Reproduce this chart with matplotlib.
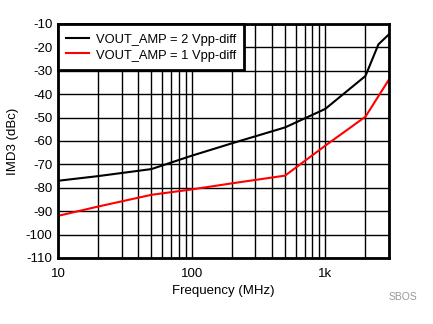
import matplotlib
matplotlib.use("Agg")
import matplotlib.pyplot as plt
from matplotlib.ticker import FixedLocator, LogLocator, NullFormatter

plt.rcParams['font.family'] = ['Liberation Sans', 'DejaVu Sans']
plt.rcParams['axes.unicode_minus'] = False

# data
freq_2v = [10, 20, 50, 100, 200, 500, 1000, 2000, 2500, 3000]
imd3_2v = [-77, -75, -72, -66.3, -61, -54.2, -46.3, -32.2, -18.7, -14.4]
freq_1v = [10, 20, 50, 100, 200, 500, 1000, 2000, 3000]
imd3_1v = [-92, -88, -83, -80.7, -78.1, -74.8, -62, -49.6, -33.7]

labels = ['VOUT_AMP = 2 Vpp-diff', 'VOUT_AMP = 1 Vpp-diff']
x_ticks = [10, 100, 1000]
x_ticklabels = ['10', '100', '1k']
y_ticks = list(range(-110, 0, 10))

fs = 9.5
fig = plt.figure(figsize=(4.33, 3.24), dpi=100)
ax = fig.add_axes([58/433, 1 - 258/324, (389-58)/433, (258-24)/324])

ax.plot(freq_2v, imd3_2v, color='black', lw=1.5, label=labels[0], zorder=3)
ax.plot(freq_1v, imd3_1v, color='#ff0000', lw=1.5, label=labels[1], zorder=3)

ax.set_xscale('log')
ax.set_xlim(10, 3000)
ax.set_ylim(-110, -10)
ax.xaxis.set_major_locator(FixedLocator(x_ticks))
ax.set_xticklabels(x_ticklabels)
ax.xaxis.set_minor_locator(LogLocator(base=10, subs=range(2, 10)))
ax.xaxis.set_minor_formatter(NullFormatter())
ax.set_yticks(y_ticks)

ax.grid(True, which='both', axis='x', color='black', lw=1)
ax.grid(True, which='major', axis='y', color='black', lw=1)
ax.tick_params(which='both', length=0, labelsize=fs, colors='black')
ax.tick_params(axis='x', pad=7)
ax.tick_params(axis='y', pad=4)
for s in ax.spines.values():
    s.set_linewidth(2)
    s.set_zorder(4)

ax.set_xlabel('Frequency (MHz)', fontsize=fs, labelpad=4)
ax.set_ylabel('IMD3 (dBc)', fontsize=fs, labelpad=5)

leg = ax.legend(loc='upper left', fontsize=9.3, fancybox=False, framealpha=1,
                edgecolor='black', borderaxespad=0, handlelength=1.75,
                handletextpad=0.55, borderpad=0.62, labelspacing=0.1,
                handleheight=1.25)
leg.get_frame().set_linewidth(2)
leg.set_zorder(5)

fig.text(403/433, 1 - 297/324, 'SBOS', fontsize=7.5, color='#999999', ha='center', va='center')

fig.savefig('out.png', dpi=100)
